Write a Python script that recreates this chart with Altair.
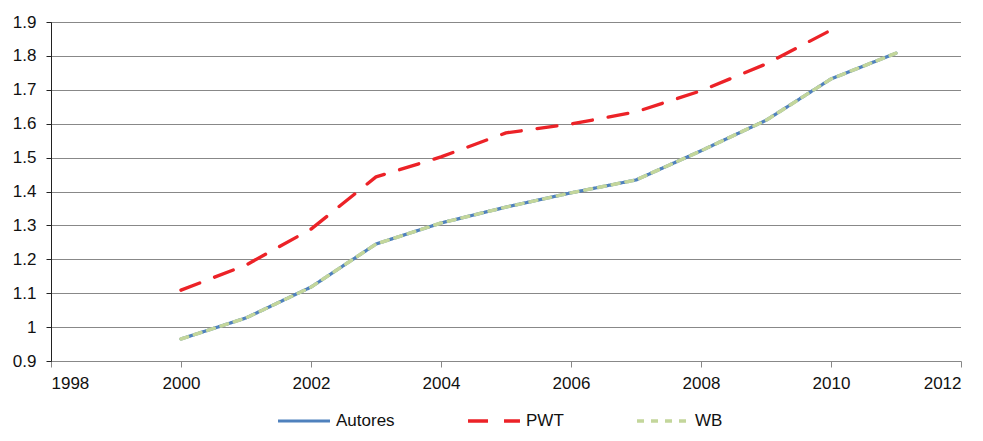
import altair as alt
import pandas as pd

years = [2000, 2001, 2002, 2003, 2004, 2005, 2006, 2007, 2008, 2009, 2010, 2011]
autores = [0.965, 1.027, 1.118, 1.245, 1.307, 1.354, 1.396, 1.434, 1.520, 1.610, 1.732, 1.808]
pwt = [1.109, 1.183, 1.289, 1.443, 1.502, 1.573, 1.599, 1.635, 1.697, 1.776, 1.876]
wb = [0.965, 1.027, 1.118, 1.245, 1.307, 1.354, 1.396, 1.434, 1.520, 1.610, 1.732, 1.808]

series_names = ["Autores", "PWT", "WB"]
colors = ["#4F81BD", "#EC2227", "#C3D69B"]
dashes = [[1, 0], [20, 16], [7, 7]]
widths = [3.2, 3.5, 4.4]

rows = []
for name, vals in zip(series_names, [autores, pwt, wb]):
    for yr, v in zip(years, vals):
        rows.append({"year": yr, "value": v, "serie": name})
df = pd.DataFrame(rows)

FONT = "Liberation Sans"

legend_kw = dict(title=None, orient="none", direction="horizontal",
                 legendX=225, legendY=371,
                 symbolType="stroke", symbolSize=2700,
                 symbolStrokeWidth=4, columnPadding=66,
                 labelOffset=4, labelFontSize=17,
                 labelFont=FONT, labelColor="#111111")

chart = alt.Chart(df).mark_line(strokeCap="round", strokeJoin="round").encode(
    x=alt.X("year:Q",
            scale=alt.Scale(domain=[1998, 2012], nice=False, zero=False),
            axis=alt.Axis(values=[1998, 2000, 2002, 2004, 2006, 2008, 2010, 2012],
                          format="d", title=None, grid=False,
                          domainColor="#888888", tickColor="#888888",
                          tickSize=6, labelPadding=8)),
    y=alt.Y("value:Q",
            scale=alt.Scale(domain=[0.9, 1.9], nice=False, zero=False),
            axis=alt.Axis(values=[0.9, 1.0, 1.1, 1.2, 1.3, 1.4, 1.5, 1.6, 1.7, 1.8, 1.9],
                          format="~g", title=None, grid=True,
                          gridColor="#111111", gridDash=[1, 1], gridWidth=1,
                          domainColor="#222222", tickColor="#222222",
                          tickSize=5, labelPadding=10)),
    color=alt.Color("serie:N",
                    scale=alt.Scale(domain=series_names, range=colors),
                    legend=alt.Legend(**legend_kw)),
    strokeDash=alt.StrokeDash("serie:N",
                              scale=alt.Scale(domain=series_names, range=dashes),
                              legend=alt.Legend(**legend_kw)),
    strokeWidth=alt.StrokeWidth("serie:N",
                                scale=alt.Scale(domain=series_names, range=widths),
                                legend=None),
).properties(
    width=910,
    height=339,
    autosize=alt.AutoSizeParams(type="none"),
    padding={"left": 43, "top": 14, "right": 13, "bottom": 71},
).configure_axis(
    labelFont=FONT, labelFontSize=17, labelColor="#111111",
).configure_view(
    stroke=None,
)

chart.save("out.html", embed_options={"renderer": "svg", "actions": False})
